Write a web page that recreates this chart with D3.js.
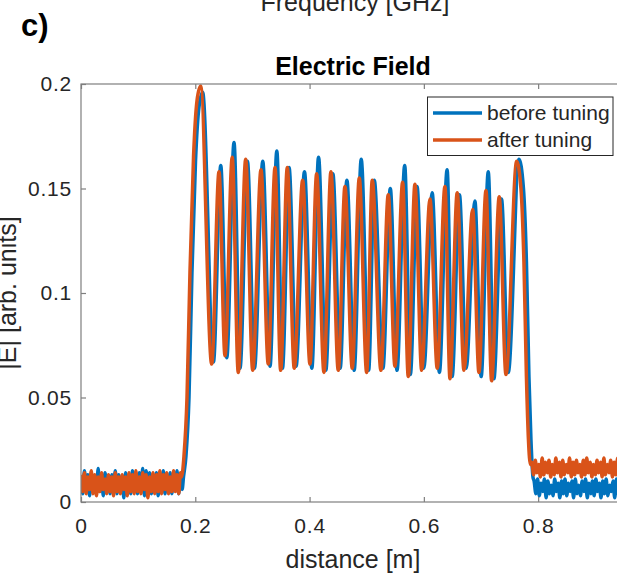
<!DOCTYPE html>
<html>
<head>
<meta charset="utf-8">
<script src="https://cdn.jsdelivr.net/npm/d3@7"></script>
<style>
  body { margin: 0; background: #fff; }
  text { font-family: "Liberation Sans", Arial, sans-serif; fill: #262626; }
</style>
</head>
<body>
<svg id="chart" width="617" height="575"></svg>
<script>
// ---- data ----
const seriesNames = ["before tuning", "after tuning"];
const seriesColors = ["#0072BD", "#D95319"];

const xTickValues = [0, 0.2, 0.4, 0.6, 0.8];
const xTickLabels = ["0", "0.2", "0.4", "0.6", "0.8"];
const yTickValues = [0, 0.05, 0.1, 0.15, 0.2];
const yTickLabels = ["0", "0.05", "0.1", "0.15", "0.2"];

// noise floor samples, one every 0.003 m
const noiseStep = 0.003;
const beforeFloorLeft = [0.012, 0.004, 0.015, 0.006, 0.013, 0.003, 0.014, 0.005, 0.012, 0.004, 0.016, 0.005, 0.013, 0.003, 0.014, 0.006,
  0.012, 0.004, 0.013, 0.005, 0.015, 0.004, 0.013, 0.006, 0.012, 0.002, 0.014, 0.005, 0.013, 0.004, 0.015, 0.006, 0.012, 0.004,
  0.014, 0.005, 0.016, 0.003, 0.015, 0.005, 0.014, 0.004, 0.012, 0.006, 0.014, 0.003, 0.013, 0.005, 0.015, 0.004, 0.012, 0.005,
  0.014, 0.004, 0.013, 0.006, 0.015, 0.004, 0.013, 0.006];
const afterFloorLeft = [0.013, 0.005, 0.014, 0.004, 0.012, 0.006, 0.015, 0.004, 0.013, 0.003, 0.012, 0.005, 0.014, 0.006, 0.011, 0.004,
  0.013, 0.005, 0.012, 0.003, 0.014, 0.005, 0.012, 0.004, 0.013, 0.006, 0.012, 0.003, 0.014, 0.005, 0.013, 0.004, 0.015, 0.005,
  0.012, 0.004, 0.014, 0.006, 0.013, 0.002, 0.012, 0.005, 0.014, 0.004, 0.013, 0.005, 0.015, 0.004, 0.013, 0.006, 0.014, 0.004,
  0.012, 0.005, 0.015, 0.005, 0.013, 0.004, 0.014];

const beforeFloorRightStart = 0.793;
const beforeFloorRight = [0.010, 0.004, 0.011, 0.003, 0.009, 0.005, 0.011, 0.002, 0.010, 0.004, 0.008, 0.003, 0.011, 0.005, 0.009, 0.002,
  0.010, 0.004, 0.011, 0.003, 0.009, 0.005, 0.010, 0.002, 0.011, 0.004, 0.008, 0.003, 0.010, 0.005, 0.011, 0.002, 0.009, 0.004,
  0.010, 0.003, 0.011, 0.005, 0.009, 0.002, 0.010, 0.004, 0.011, 0.003, 0.008, 0.005, 0.010, 0.002, 0.011, 0.004, 0.009, 0.003,
  0.010, 0.004];
const afterFloorRightStart = 0.789;
const afterFloorRight = [0.019, 0.013, 0.020, 0.014, 0.018, 0.012, 0.021, 0.013, 0.019, 0.014, 0.020, 0.012, 0.018, 0.013, 0.021, 0.014,
  0.019, 0.012, 0.020, 0.013, 0.018, 0.014, 0.021, 0.012, 0.019, 0.013, 0.020, 0.014, 0.018, 0.012, 0.020, 0.013, 0.021, 0.014,
  0.019, 0.012, 0.018, 0.013, 0.020, 0.014, 0.019, 0.012, 0.021, 0.013, 0.018, 0.014, 0.020, 0.012, 0.019, 0.013, 0.021, 0.014,
  0.018, 0.013, 0.020];

// cavity region: rising edge, alternating peaks / troughs, falling edge
const beforeCavityX = [0.1794, 0.1837, 0.1890, 0.1942, 0.2004, 0.2065, 0.2129,
  0.2318, 0.2446, 0.2551, 0.2678, 0.2783, 0.2913, 0.3036, 0.3181, 0.3308, 0.3427, 0.3526, 0.3642, 0.3764, 0.3911,
  0.4040, 0.4157, 0.4285, 0.4408, 0.4536, 0.4653, 0.4781, 0.4904, 0.5034, 0.5132, 0.5284, 0.5413, 0.5530, 0.5665,
  0.5764, 0.5881, 0.6000, 0.6145, 0.6272, 0.6407, 0.6495, 0.6623, 0.6741, 0.6893, 0.7003, 0.7127, 0.7226, 0.7359,
  0.7477, 0.7665, 0.7743, 0.7795, 0.7839, 0.7874, 0.7909];
const beforeCavityY = [0.012, 0.022, 0.050, 0.110, 0.163, 0.189, 0.196,
  0.067, 0.161, 0.069, 0.172, 0.064, 0.163, 0.064, 0.163, 0.065, 0.168, 0.064, 0.160, 0.065, 0.158,
  0.064, 0.165, 0.063, 0.157, 0.064, 0.154, 0.063, 0.164, 0.063, 0.154, 0.064, 0.150, 0.063, 0.161,
  0.061, 0.151, 0.064, 0.148, 0.062, 0.159, 0.060, 0.147, 0.064, 0.144, 0.060, 0.158, 0.059, 0.145,
  0.062, 0.164, 0.150, 0.115, 0.060, 0.030, 0.012];

const afterCavityX = [0.1759, 0.1802, 0.1855, 0.1907, 0.1969, 0.2030, 0.2094,
  0.2287, 0.2415, 0.2520, 0.2647, 0.2752, 0.2882, 0.3005, 0.3150, 0.3277, 0.3395, 0.3494, 0.3610, 0.3732, 0.3879,
  0.4007, 0.4124, 0.4252, 0.4374, 0.4502, 0.4619, 0.4747, 0.4870, 0.4999, 0.5097, 0.5249, 0.5377, 0.5494, 0.5629,
  0.5727, 0.5844, 0.5962, 0.6107, 0.6234, 0.6369, 0.6457, 0.6584, 0.6702, 0.6854, 0.6964, 0.7087, 0.7186, 0.7319,
  0.7437, 0.7624, 0.7699, 0.7751, 0.7795, 0.7830, 0.7865];
const afterCavityY = [0.012, 0.022, 0.050, 0.110, 0.165, 0.192, 0.199,
  0.066, 0.158, 0.070, 0.165, 0.062, 0.164, 0.063, 0.159, 0.066, 0.160, 0.063, 0.160, 0.064, 0.154,
  0.066, 0.157, 0.062, 0.158, 0.063, 0.151, 0.064, 0.155, 0.062, 0.154, 0.063, 0.147, 0.065, 0.153,
  0.060, 0.152, 0.063, 0.145, 0.064, 0.151, 0.059, 0.148, 0.063, 0.140, 0.062, 0.149, 0.058, 0.146,
  0.061, 0.163, 0.150, 0.115, 0.060, 0.030, 0.018];

// ---- build the two series ----
function buildSeries(floorLeft, cavX, cavY, rightStart, floorRight) {
  const pts = [];
  floorLeft.forEach((v, i) => pts.push([i * noiseStep, v]));
  cavX.forEach((xv, i) => pts.push([xv, cavY[i]]));
  floorRight.forEach((v, i) => pts.push([rightStart + i * noiseStep, v]));
  return pts;
}
const series = [
  buildSeries(beforeFloorLeft, beforeCavityX, beforeCavityY, beforeFloorRightStart, beforeFloorRight),
  buildSeries(afterFloorLeft, afterCavityX, afterCavityY, afterFloorRightStart, afterFloorRight)
];

// ---- layout ----
const svg = d3.select('#chart');
const plot = { left: 81, right: 625, top: 84, bottom: 502 };

const x = d3.scaleLinear().domain([0, 0.952]).range([plot.left, plot.right]);
const y = d3.scaleLinear().domain([0, 0.2]).range([plot.bottom, plot.top]);

svg.append('rect').attr('width', 617).attr('height', 575).attr('fill', '#fff');

svg.append('clipPath').attr('id', 'plotClip')
  .append('rect')
  .attr('x', plot.left).attr('y', plot.top)
  .attr('width', plot.right - plot.left).attr('height', plot.bottom - plot.top);

// lines
const line = d3.line()
  .x(d => x(d[0]))
  .y(d => y(d[1]))
  .curve(d3.curveMonotoneX);

svg.append('g').attr('clip-path', 'url(#plotClip)')
  .selectAll('path')
  .data(series)
  .enter().append('path')
    .attr('d', line)
    .attr('fill', 'none')
    .attr('stroke', (_, i) => seriesColors[i])
    .attr('stroke-width', 3.5)
    .attr('stroke-linejoin', 'round');

// axes (ticks point inward like matlab)
const axisColor = '#7f7f7f';
const tickFont = 21;

const xAxis = svg.append('g')
  .attr('transform', `translate(0,${plot.bottom})`)
  .call(d3.axisBottom(x).tickValues(xTickValues)
    .tickFormat((d, i) => xTickLabels[i])
    .tickSize(-5).tickPadding(16));
const xTop = svg.append('g')
  .attr('transform', `translate(0,${plot.top})`)
  .call(d3.axisTop(x).tickValues(xTickValues).tickFormat('').tickSize(-5));
const yAxis = svg.append('g')
  .attr('transform', `translate(${plot.left},0)`)
  .call(d3.axisLeft(y).tickValues(yTickValues)
    .tickFormat((d, i) => yTickLabels[i])
    .tickSize(-5).tickPadding(9));

[xAxis, xTop, yAxis].forEach(g => {
  g.select('.domain').remove();
  g.selectAll('line').attr('stroke', axisColor).attr('stroke-width', 1.2);
  g.selectAll('text')
    .attr('font-size', tickFont)
    .attr('letter-spacing', '0.8px')
    .attr('font-family', '"Liberation Sans", Arial, sans-serif')
    .attr('fill', '#262626');
});

// box
svg.append('rect')
  .attr('x', plot.left).attr('y', plot.top)
  .attr('width', plot.right - plot.left).attr('height', plot.bottom - plot.top)
  .attr('fill', 'none')
  .attr('stroke', axisColor)
  .attr('stroke-width', 1.2);

// titles and labels
svg.append('text')
  .attr('x', 353).attr('y', 75)
  .attr('text-anchor', 'middle')
  .attr('font-size', 25).attr('font-weight', 'bold')
  .style('fill', '#000')
  .text('Electric Field');

svg.append('text')
  .attr('x', 353).attr('y', 568)
  .attr('text-anchor', 'middle')
  .attr('font-size', 25)
  .text('distance [m]');

// y label sits partly past the left edge, as in the source figure
svg.append('text')
  .attr('transform', `translate(16,${(plot.top + plot.bottom) / 2}) rotate(-90)`)
  .attr('text-anchor', 'middle')
  .attr('font-size', 25)
  .text('|E| [arb. units]');

// leftovers of the panel above (cut by the top edge)
svg.append('text')
  .attr('x', 355).attr('y', 11)
  .attr('text-anchor', 'middle')
  .attr('font-size', 25)
  .text('Frequency [GHz]');

svg.append('text')
  .attr('x', 21).attr('y', 36)
  .attr('font-size', 31).attr('font-weight', 'bold')
  .style('fill', '#000')
  .text('c)');

// legend
const legend = svg.append('g');
legend.append('rect')
  .attr('x', 427.5).attr('y', 97)
  .attr('width', 185.5).attr('height', 58.5)
  .attr('fill', '#fff')
  .attr('stroke', '#262626')
  .attr('stroke-width', 1);

const rows = legend.selectAll('g.row')
  .data(seriesNames)
  .enter().append('g')
    .attr('class', 'row')
    .attr('transform', (_, i) => `translate(0,${113 + i * 27})`);
rows.append('line')
  .attr('x1', 433).attr('x2', 482)
  .attr('stroke', (_, i) => seriesColors[i])
  .attr('stroke-width', 3.5);
rows.append('text')
  .attr('x', 487).attr('y', 7)
  .attr('font-size', 21)
  .text(d => d);
</script>
</body>
</html>
